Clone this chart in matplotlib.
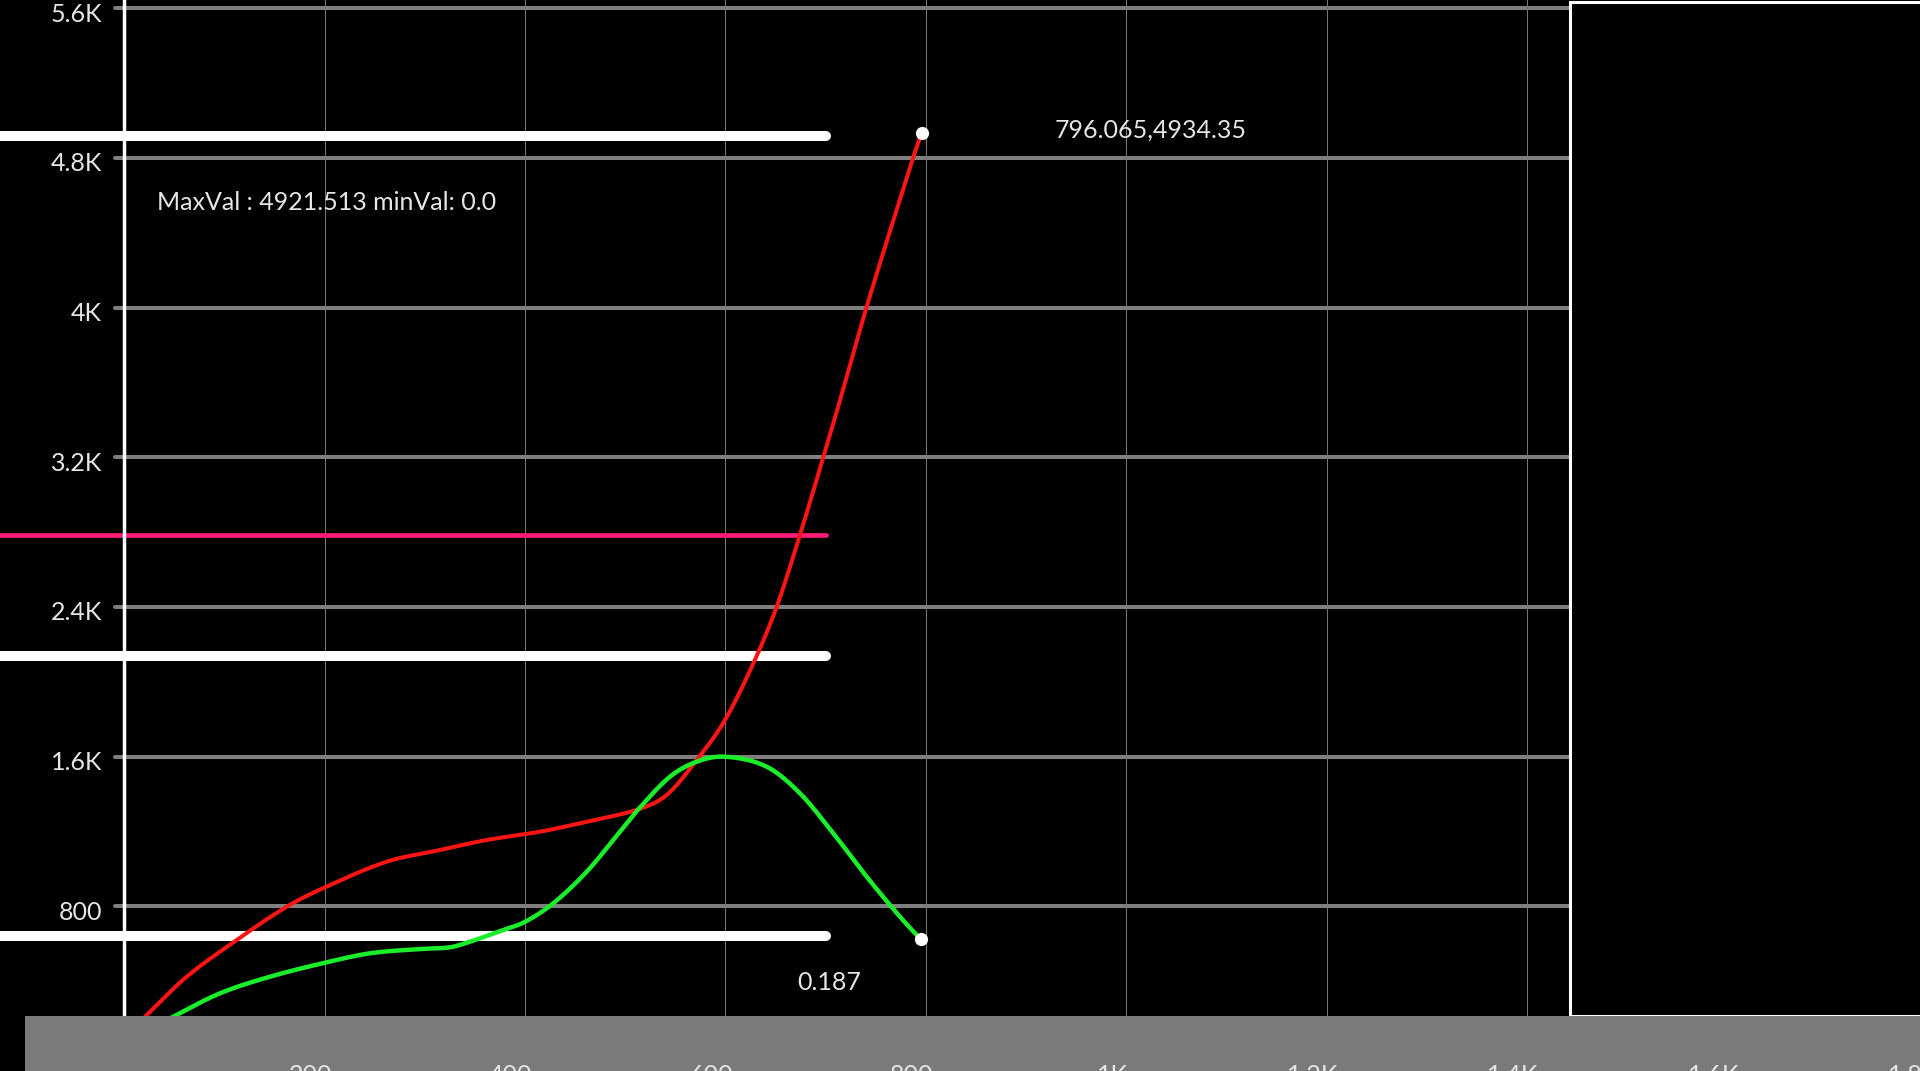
import numpy as np
import matplotlib
matplotlib.use("Agg")
import matplotlib.pyplot as plt
from matplotlib.patches import Rectangle
from matplotlib.transforms import blended_transform_factory, offset_copy, ScaledTranslation

plt.rcParams['font.family'] = ['Lato', 'DejaVu Sans']

# ---------------- data ----------------
red_x = [0, 20.9, 62.5, 112.4, 162.3, 200.5, 262.1, 312.0, 361.9, 415.1, 461.7,
         513.2, 541.5, 571.5, 599.7, 628.0, 651.3, 674.5, 697.8, 714.5, 741.1,
         787.6, 796.065]
red_y = [95, 210.5, 424.3, 620.4, 798.4, 902, 1038.9, 1097.6, 1154.8, 1199.2, 1252.6,
         1318.9, 1395.3, 1582.3, 1796.1, 2099, 2401.6, 2784.7, 3200, 3504.6, 4004.7,
         4803.1, 4934.35]

green_x = [0, 49.1, 95.7, 145.6, 200.5, 245.4, 295.3, 325.2, 345.2, 378.4, 400.4,
           428.3, 461.7, 494.9, 513.2, 544.8, 571.5, 599.7, 641.3, 674.5, 707.8,
           741.1, 774.3, 795.0]
green_y = [68, 210.5, 335.6, 424.3, 499.1, 549.4, 572.3, 581.4, 611.3, 673.9, 718.2,
           816.5, 985.4, 1199.2, 1318.9, 1493.1, 1573.3, 1600, 1546.5, 1404.4, 1190.6,
           958.7, 744.9, 624.2]

white_levels = [4917, 2136.5, 640]
pink_level = 2785
ref_line_end = 700

ytick_vals = [800, 1600, 2400, 3200, 4000, 4800, 5600]
ytick_labels = ['800', '1.6K', '2.4K', '3.2K', '4K', '4.8K', '5.6K']
xtick_vals = [200, 400, 600, 800, 1000, 1200, 1400, 1600, 1800]
xtick_labels = ['200', '400', '600', '800', '1K', '1.2K', '1.4K', '1.6K', '1.8K']

stats_text = 'MaxVal : 4921.513 minVal: 0.0'
red_end_label = '796.065,4934.35'
green_end_label = '0.187'


def smooth_curve(x, y, n=800):
    """Cubic Hermite curve through the points with centred slopes."""
    x = np.asarray(x, float)
    y = np.asarray(y, float)
    h = np.diff(x)
    d = np.diff(y) / h
    m = np.empty_like(y)
    m[0], m[-1] = d[0], d[-1]
    m[1:-1] = (y[2:] - y[:-2]) / (x[2:] - x[:-2])
    xs = np.linspace(x[0], x[-1], n)
    idx = np.clip(np.searchsorted(x, xs) - 1, 0, len(x) - 2)
    t = (xs - x[idx]) / h[idx]
    h00 = 2 * t**3 - 3 * t**2 + 1
    h10 = t**3 - 2 * t**2 + t
    h01 = -2 * t**3 + 3 * t**2
    h11 = t**3 - t**2
    ys = h00 * y[idx] + h10 * h[idx] * m[idx] + h01 * y[idx + 1] + h11 * h[idx] * m[idx + 1]
    return xs, ys


# ---------------- figure ----------------
W, H = 1920, 1071
fig = plt.figure(figsize=(W / 100, H / 100), dpi=100, facecolor='black')
ax_left = 124.1
ax_bottom_px = 1016.3
ax = fig.add_axes([ax_left / W, (H - ax_bottom_px) / H, 1 - ax_left / W, ax_bottom_px / H])
ax.set_facecolor('black')

txt_color = '#e6e6e6'

# grid
hl = ax.hlines(ytick_vals, -9.5, 1444, colors='#7f7f7f', lw=2.9, zorder=1, clip_on=False)
hl.set_capstyle('round')
ax.vlines(xtick_vals[:7], 0, 6000, colors='#7a7a7a', lw=0.7, zorder=1)

# reference lines
wl = ax.hlines(white_levels, -130, ref_line_end, colors='white', lw=7.2, zorder=2, clip_on=False)
wl.set_capstyle('round')
pl = ax.hlines([pink_level], -130, ref_line_end, colors='#ff1a75', lw=3.4, zorder=2, clip_on=False)
pl.set_capstyle('round')

# series
rx, ry = smooth_curve(red_x, red_y)
gx, gy = smooth_curve(green_x, green_y)
ax.plot(rx, ry, color='#ff1414', lw=2.9, zorder=3, solid_capstyle='round')
ax.plot(gx, gy, color='#1aee2a', lw=3.2, zorder=3.1, solid_capstyle='round')
ax.plot([red_x[-1], green_x[-1]], [red_y[-1], green_y[-1]], 'o', color='white',
        markersize=9.5, markeredgewidth=0, zorder=4)

ax.annotate(red_end_label, xy=(red_x[-1], red_y[-1]), xytext=(133, 3.0),
            textcoords='offset pixels', ha='left', va='center', fontsize=18,
            color=txt_color, zorder=5)
ax.annotate(green_end_label, xy=(green_x[-1], green_y[-1]), xytext=(-92, -43.5),
            textcoords='offset pixels', ha='center', va='center', fontsize=18,
            color=txt_color, zorder=5)
ax.text(157 / W, 1 - 202 / H, stats_text, transform=fig.transFigure, ha='left',
        va='center', fontsize=18, color=txt_color, zorder=5)

# axes styling
for s in ['top', 'right', 'bottom']:
    ax.spines[s].set_visible(False)
ax.spines['left'].set_color('white')
ax.spines['left'].set_linewidth(2.5)
ax.set_yticks(ytick_vals, ytick_labels)
ax.tick_params(axis='y', length=0, pad=15.8, labelcolor=txt_color, labelsize=18)
shift = ScaledTranslation(0, -4 / 100, fig.dpi_scale_trans)
for lbl in ax.get_yticklabels():
    lbl.set_transform(lbl.get_transform() + shift)
ax.set_xticks([])

# right-side black panel
ax.add_patch(Rectangle((1570 / W, (H - ax_bottom_px) / H), (W - 1570 + 10) / W,
                       (ax_bottom_px - 1.5) / H, transform=fig.transFigure,
                       facecolor='black', edgecolor='white', lw=2.2, zorder=8,
                       clip_on=False))
# bottom gray bar
ax.add_patch(Rectangle((24.5 / W, 0), 1 - 24.5 / W, (H - ax_bottom_px) / H,
                       transform=fig.transFigure, facecolor='#7a7a7a', lw=0,
                       zorder=10, clip_on=False))
# x tick labels (cut off by figure bottom, as in the reference)
btr = offset_copy(blended_transform_factory(ax.transData, fig.transFigure),
                  fig=fig, x=-14, y=0, units='dots')
for v, lab in zip(xtick_vals, xtick_labels):
    ax.text(v, (H - 1064) / H, lab, transform=btr, ha='center', va='top',
            fontsize=18, color=txt_color, zorder=11, clip_on=False)

ax.set_xlim(0, (W - ax_left) / 1.002)
ax.set_ylim((1056.1 - ax_bottom_px) / 0.18713, 1056.1 / 0.18713)

fig.savefig('out.png', dpi=100, facecolor='black')
